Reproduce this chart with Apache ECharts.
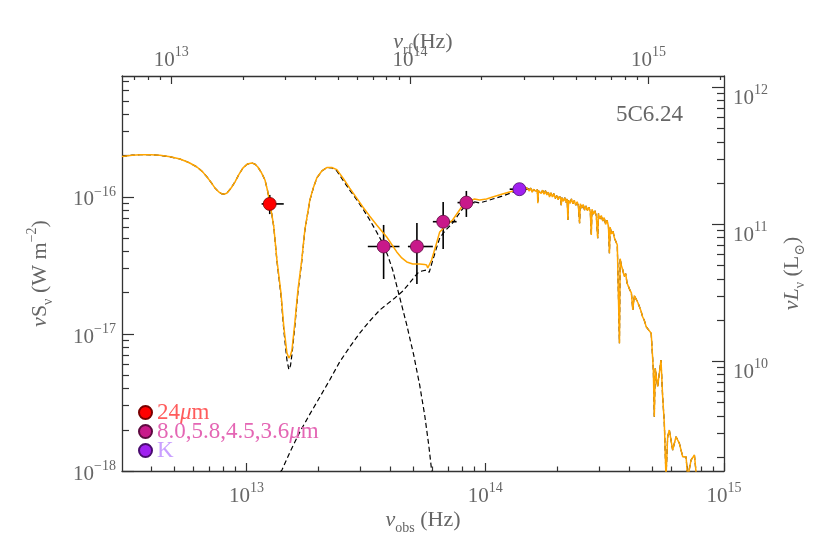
<!DOCTYPE html>
<html>
<head>
<meta charset="utf-8">
<title>5C6.24 SED</title>
<script src="https://cdn.jsdelivr.net/npm/echarts@6/dist/echarts.min.js"></script>
<style>
    html, body { margin: 0; padding: 0; background: #fff; }
    #main { width: 822px; height: 548px; }
</style>
</head>
<body>
<div id="main"></div>
<script>
    var FONT = "'Liberation Serif', 'DejaVu Serif', serif";

    // axis extents, log10 units
    var xMin = 12.478, xMax = 15.0;          // nu_obs (Hz)
    var yMin = -18.0, yMax = -15.117;        // nu S_nu (W m^-2)
    var zRed = 1.07;                         // nu_rf = nu_obs (1+z)
    var lumShift = 27.199;                   // log nuL_nu(Lsun) - log nuS_nu

    // photometry (Hz, W m^-2)
    var bandNu     = [1.25e13, 3.75e13, 5.17e13, 6.66e13, 8.33e13, 1.39e14];
    var bandNuLo   = [1.156e13, 3.22e13, 4.74e13, 6.03e13, 7.65e13, 1.265e14];
    var bandNuHi   = [1.431e13, 4.37e13, 6.03e13, 7.58e13, 9.02e13, 1.53e14];
    var bandFlux   = [8.9e-17, 4.35e-17, 4.35e-17, 6.6e-17, 9.1e-17, 1.14e-16];
    var bandFluxLo = [7.5e-17, 2.52e-17, 2.32e-17, 4.17e-17, 7.15e-17, 1.12e-16];
    var bandFluxHi = [1.035e-16, 6.25e-17, 6.45e-17, 9.19e-17, 1.107e-16, 1.16e-16];

    // model curves as [log10 nu_obs, log10 nuS_nu]
    // total model (orange) below ~1.4e14 Hz
    var totalLow = [
        [12.478,-15.705],[12.520,-15.695],[12.554,-15.691],[12.600,-15.692],[12.637,-15.696],[12.680,-15.707],
        [12.721,-15.723],[12.760,-15.750],[12.792,-15.781],[12.815,-15.815],[12.834,-15.854],[12.852,-15.895],
        [12.867,-15.934],[12.883,-15.962],[12.897,-15.978],[12.908,-15.979],[12.918,-15.971],[12.935,-15.935],
        [12.951,-15.891],[12.968,-15.835],[12.985,-15.788],[13.003,-15.760],[13.022,-15.752],[13.035,-15.760],
        [13.047,-15.781],[13.062,-15.822],[13.077,-15.876],[13.088,-15.955],[13.097,-16.044],[13.106,-16.130],
        [13.114,-16.219],[13.127,-16.460],[13.144,-16.701],[13.156,-16.949],[13.169,-17.139],[13.177,-17.175],
        [13.183,-17.160],[13.190,-17.117],[13.202,-16.920],[13.215,-16.679],[13.231,-16.460],[13.244,-16.241],
        [13.265,-16.022],[13.280,-15.930],[13.294,-15.861],[13.315,-15.810],[13.336,-15.785],[13.357,-15.785],
        [13.378,-15.800],[13.405,-15.865],[13.432,-15.935],[13.460,-16.005],[13.487,-16.073],[13.516,-16.140],
        [13.545,-16.204],[13.587,-16.292],[13.629,-16.401],[13.650,-16.445],[13.671,-16.474],[13.696,-16.489],
        [13.725,-16.489],[13.745,-16.492],[13.754,-16.496],[13.759,-16.518],[13.764,-16.520],[13.775,-16.460],
        [13.796,-16.336],[13.809,-16.255],[13.830,-16.219],[13.863,-16.168],[13.901,-16.073],[13.922,-16.036],
        [13.955,-16.015],[13.976,-16.022],[14.005,-16.015],[14.031,-16.000],[14.072,-15.978],[14.131,-15.949]
    ];
    // dust component (dashed)
    var dustModel = [
        [12.478,-15.705],[12.520,-15.695],[12.554,-15.691],[12.600,-15.692],[12.637,-15.696],[12.680,-15.707],
        [12.721,-15.723],[12.760,-15.750],[12.792,-15.781],[12.815,-15.815],[12.834,-15.854],[12.852,-15.895],
        [12.867,-15.934],[12.883,-15.962],[12.897,-15.978],[12.908,-15.979],[12.918,-15.971],[12.935,-15.935],
        [12.951,-15.891],[12.968,-15.835],[12.985,-15.788],[13.003,-15.760],[13.022,-15.752],[13.035,-15.760],
        [13.047,-15.781],[13.062,-15.822],[13.077,-15.876],[13.088,-15.955],[13.097,-16.044],[13.106,-16.130],
        [13.114,-16.220],[13.127,-16.465],[13.144,-16.715],[13.156,-16.975],[13.169,-17.190],[13.177,-17.260],
        [13.184,-17.230],[13.190,-17.150],[13.202,-16.945],[13.215,-16.695],[13.231,-16.470],[13.244,-16.246],
        [13.265,-16.025],[13.280,-15.932],[13.294,-15.862],[13.315,-15.811],[13.336,-15.786],[13.357,-15.787],
        [13.378,-15.810],[13.403,-15.876],[13.432,-15.950],[13.462,-16.022],[13.490,-16.095],[13.516,-16.168],
        [13.543,-16.250],[13.570,-16.336],[13.592,-16.430],[13.612,-16.533],[13.641,-16.730],[13.671,-16.934],
        [13.700,-17.153],[13.725,-17.372],[13.746,-17.591],[13.763,-17.810],[13.775,-17.993],[13.784,-18.100]
    ];
    // stellar component (dashed), rising part
    var stellarLow = [
        [13.118,-18.050],[13.148,-17.993],[13.185,-17.850],[13.223,-17.715],[13.265,-17.585],[13.307,-17.460],
        [13.350,-17.330],[13.390,-17.204],[13.432,-17.095],[13.474,-16.993],[13.516,-16.905],[13.558,-16.825],
        [13.590,-16.780],[13.621,-16.737],[13.652,-16.690],[13.683,-16.628],[13.700,-16.590],[13.717,-16.555],
        [13.735,-16.540],[13.754,-16.533],[13.760,-16.545],[13.765,-16.550],[13.775,-16.490],[13.796,-16.370],
        [13.809,-16.300],[13.830,-16.250],[13.863,-16.190],[13.901,-16.095],[13.922,-16.058],[13.955,-16.036],
        [13.976,-16.044],[14.005,-16.029],[14.031,-16.015],[14.072,-15.993],[14.131,-15.956]
    ];
    // noisy stellar template above ~1.4e14 Hz; dust is negligible there so the total follows it
    var stellarHigh = [
        [14.160,-15.935],[14.166,-15.960],[14.172,-15.930],[14.178,-15.925],[14.184,-15.955],[14.190,-15.935],
        [14.196,-15.965],[14.202,-15.945],[14.208,-15.935],[14.213,-15.960],[14.218,-15.945],[14.220,-16.046],
        [14.223,-15.955],[14.228,-15.945],[14.234,-15.975],[14.240,-15.950],[14.246,-15.980],[14.252,-15.955],
        [14.258,-15.985],[14.264,-15.965],[14.269,-16.000],[14.275,-15.970],[14.281,-16.000],[14.287,-15.975],
        [14.293,-16.010],[14.299,-15.990],[14.305,-16.020],[14.311,-15.995],[14.316,-16.010],[14.318,-16.060],
        [14.321,-16.005],[14.327,-16.030],[14.333,-16.005],[14.339,-16.040],[14.343,-16.015],[14.346,-16.168],
        [14.349,-16.025],[14.355,-16.045],[14.361,-16.015],[14.367,-16.050],[14.373,-16.025],[14.379,-16.060],
        [14.385,-16.035],[14.390,-16.065],[14.395,-16.192],[14.398,-16.050],[14.404,-16.080],[14.410,-16.055],
        [14.416,-16.095],[14.422,-16.065],[14.428,-16.100],[14.434,-16.075],[14.440,-16.110],[14.444,-16.277],
        [14.447,-16.090],[14.453,-16.125],[14.459,-16.100],[14.465,-16.140],[14.471,-16.301],[14.474,-16.120],
        [14.480,-16.160],[14.486,-16.135],[14.492,-16.175],[14.498,-16.150],[14.504,-16.200],[14.510,-16.170],
        [14.516,-16.215],[14.520,-16.411],[14.523,-16.220],[14.529,-16.270],[14.535,-16.250],[14.541,-16.300],
        [14.547,-16.290],[14.553,-16.350],[14.559,-16.360],[14.562,-17.068],[14.565,-16.450],[14.570,-16.500],
        [14.576,-16.533],[14.582,-16.580],[14.588,-16.560],[14.594,-16.630],[14.600,-16.620],[14.606,-16.680],
        [14.612,-16.700],[14.618,-16.825],[14.624,-16.720],[14.632,-16.728],[14.639,-16.770],[14.646,-16.776],
        [14.652,-16.830],[14.659,-16.874],[14.666,-16.900],[14.674,-16.947],[14.684,-16.970],[14.695,-16.995],
        [14.704,-17.263],[14.708,-17.604],[14.712,-17.250],[14.722,-17.385],[14.736,-17.190],[14.743,-17.458],
        [14.750,-17.652],[14.757,-18.050],[14.764,-17.750],[14.771,-17.701],[14.785,-17.847],[14.799,-17.750],
        [14.813,-17.798],[14.827,-17.896],[14.841,-17.896],[14.848,-18.050],[14.862,-17.920],[14.876,-17.883],
        [14.888,-18.100]
    ];

    // legend groups: name, band indices, marker colour, text colour
    var groupNames  = ['24μm', '8.0,5.8,4.5,3.6μm', 'K'];
    var groupBands  = [[0], [1, 2, 3, 4], [5]];
    var groupFill   = ['#ff0000', '#c8198a', '#a020f0'];
    var groupBorder = ['#7a0000', '#5e0a40', '#4a0c70'];
    var groupText   = ['#ff5c5c', '#e466b4', '#c9a0ff'];

    var lg = Math.log10;
    var shiftRf = lg(1 + zRed);

    function majorTicks(lo, hi) {
        var out = [];
        for (var d = Math.ceil(lo); d <= hi + 1e-9; d++) out.push(d);
        return out;
    }
    function minorTicks(lo, hi) {
        var out = [];
        for (var d = Math.floor(lo); d < hi; d++) {
            for (var m = 2; m < 10; m++) {
                var v = d + lg(m);
                if (v > lo + 0.005 && v < hi - 0.005) out.push(v);
            }
        }
        return out;
    }
    function powLabel(v) {
        var n = Math.round(v);
        return '{b|10}{s|' + (n < 0 ? '\u2212' + (-n) : n) + '}';
    }

    var labelRich = {
        b: {fontFamily: FONT, fontSize: 21, color: '#666', lineHeight: 30},
        s: {fontFamily: FONT, fontSize: 14, color: '#666', lineHeight: 14, verticalAlign: 'top'}
    };
    var nameRich = {
        n: {fontFamily: FONT, fontSize: 22, color: '#666', lineHeight: 30},
        i: {fontFamily: FONT, fontSize: 22, color: '#666', lineHeight: 30, fontStyle: 'italic'},
        sub: {fontFamily: FONT, fontSize: 14, color: '#666', lineHeight: 18, verticalAlign: 'bottom'},
        sup: {fontFamily: FONT, fontSize: 14, color: '#666', lineHeight: 14, verticalAlign: 'top'}
    };
    var axisCol = '#333';

    // one axis with long ticks + labels, a twin with short minor ticks only
    function majorAxis(pos, lo, hi, tickLen, extra) {
        var ax = {
            type: 'value', position: pos, min: lo, max: hi,
            axisLine: {show: true, onZero: false, lineStyle: {color: axisCol, width: 1.3}},
            axisTick: {show: true, inside: true, length: tickLen, customValues: majorTicks(lo, hi),
                lineStyle: {color: axisCol, width: 1.2}},
            axisLabel: {show: true, customValues: majorTicks(lo, hi), formatter: powLabel, rich: labelRich},
            splitLine: {show: false},
            nameMoveOverlap: false,
            nameTextStyle: {fontFamily: FONT, fontSize: 22, color: '#666', rich: nameRich}
        };
        for (var k in extra) {
            if (k === 'axisLabel') {
                for (var j in extra[k]) ax.axisLabel[j] = extra[k][j];
            } else {
                ax[k] = extra[k];
            }
        }
        return ax;
    }
    function minorAxis(pos, lo, hi, tickLen) {
        return {
            type: 'value', position: pos, min: lo, max: hi,
            axisLine: {show: false, onZero: false},
            axisTick: {show: true, inside: true, length: tickLen, customValues: minorTicks(lo, hi),
                lineStyle: {color: axisCol, width: 1.2}},
            axisLabel: {show: false},
            splitLine: {show: false}
        };
    }

    // series data
    var errData = [];
    for (var i = 0; i < bandNu.length; i++) {
        errData.push([lg(bandNu[i]), lg(bandFlux[i]), lg(bandNuLo[i]), lg(bandNuHi[i]),
            lg(bandFluxLo[i]), lg(bandFluxHi[i])]);
    }

    var series = [
        {
            name: 'dust', type: 'line', data: dustModel, showSymbol: false, silent: true,
            lineStyle: {color: '#000', width: 1.2, type: [5, 3]}
        },
        {
            name: 'stars', type: 'line', data: stellarLow.concat(stellarHigh), showSymbol: false, silent: true,
            lineStyle: {color: '#000', width: 1.2, type: [5, 3]}
        },
        {
            name: 'model', type: 'line', data: totalLow.concat(stellarHigh), showSymbol: false, silent: true,
            lineStyle: {color: '#ffa500', width: 1.5}
        },
        {
            name: 'errors', type: 'custom', data: errData, silent: true,
            encode: {x: [0, 2, 3], y: [1, 4, 5]},
            renderItem: function (params, api) {
                var c = api.coord([api.value(0), api.value(1)]);
                var xl = api.coord([api.value(2), api.value(1)]);
                var xh = api.coord([api.value(3), api.value(1)]);
                var yl = api.coord([api.value(0), api.value(4)]);
                var yh = api.coord([api.value(0), api.value(5)]);
                var st = {stroke: '#000', lineWidth: 1.6};
                return {
                    type: 'group',
                    children: [
                        {type: 'line', shape: {x1: xl[0], y1: c[1], x2: xh[0], y2: c[1]}, style: st},
                        {type: 'line', shape: {x1: c[0], y1: yl[1], x2: c[0], y2: yh[1]}, style: st}
                    ]
                };
            }
        }
    ];
    var legendData = [];
    var legendRich = {};
    var muKey = {};
    for (var g = 0; g < groupNames.length; g++) {
        var pts = [];
        for (var b = 0; b < groupBands[g].length; b++) {
            var idx = groupBands[g][b];
            pts.push([lg(bandNu[idx]), lg(bandFlux[idx])]);
        }
        series.push({
            name: groupNames[g], type: 'scatter', data: pts, symbol: 'circle', symbolSize: 13, z: 5,
            itemStyle: {color: groupFill[g], borderColor: groupBorder[g], borderWidth: 0.8, opacity: 1}
        });
        legendData.push({name: groupNames[g], textStyle: {color: groupText[g]}});
        muKey[groupNames[g]] = 'mu' + g;
        legendRich['mu' + g] = {fontFamily: FONT, fontSize: 23, lineHeight: 20, color: groupText[g], fontStyle: 'italic'};
    }

    var myChart = echarts.init(document.getElementById('main'), null, {renderer: 'canvas'});
    var option = {
        backgroundColor: '#fff',
        animation: false,
        grid: {left: 122, right: 98, top: 76, bottom: 77, containLabel: false, outerBoundsMode: 'none'},
        legend: {
            data: legendData, orient: 'vertical', left: 133, top: 396, itemGap: -4,
            itemWidth: 13, itemHeight: 13, icon: 'circle', selectedMode: false,
            textStyle: {fontFamily: FONT, fontSize: 23, lineHeight: 20, rich: legendRich},
            formatter: function (name) {
                return name.split('μ').join('{' + muKey[name] + '|μ}');
            }
        },
        xAxis: [
            majorAxis('bottom', xMin, xMax, 8, {
                axisLabel: {margin: 10},
                name: '{i|ν}{sub|obs} {n|(Hz)}', nameLocation: 'middle', nameGap: 34
            }),
            minorAxis('bottom', xMin, xMax, 4.5),
            majorAxis('top', xMin + shiftRf, xMax + shiftRf, 8, {
                axisLabel: {margin: 1},
                name: '{i|ν}{sub|rf}{n|(Hz)}', nameLocation: 'middle', nameGap: 19
            }),
            minorAxis('top', xMin + shiftRf, xMax + shiftRf, 4)
        ],
        yAxis: [
            majorAxis('left', yMin, yMax, 12, {
                axisLabel: {margin: 6, padding: [6, 0, 0, 0]},
                name: '{i|ν}{n|S}{sub|ν} {n|(W m}{sup|\u22122}{n|)}', nameLocation: 'middle', nameGap: 67, nameRotate: 90
            }),
            minorAxis('left', yMin, yMax, 7),
            majorAxis('right', yMin + lumShift, yMax + lumShift, 12, {
                axisLabel: {margin: 9, padding: [22, 0, 0, 0]},
                name: '{i|νL}{sub|ν} {n|(L}{sub|\u2299}{n|)}', nameLocation: 'middle', nameGap: 53, nameRotate: 90
            }),
            minorAxis('right', yMin + lumShift, yMax + lumShift, 7)
        ],
        graphic: [
            {
                type: 'text', left: 616, top: 103,
                style: {text: '5C6.24', fill: '#666', font: '23px ' + FONT}
            }
        ],
        series: series
    };
    myChart.setOption(option);
</script>
</body>
</html>
